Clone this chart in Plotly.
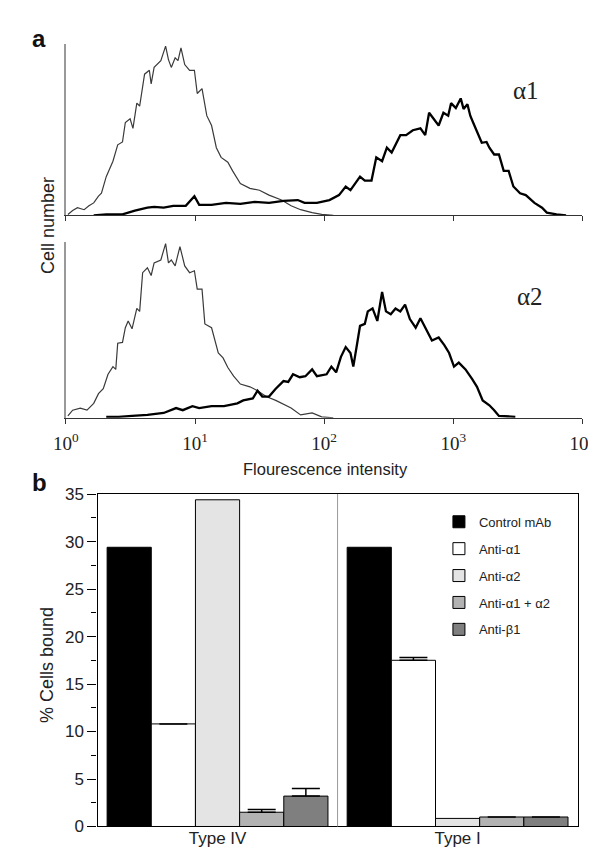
import plotly.graph_objects as go

# ---------------- Panel a data (flow cytometry histograms) ----------------
# log10 fluorescence intensity / relative cell number
a1_ctrl_logI = [0.015, 0.052, 0.089, 0.141, 0.178, 0.215, 0.252, 0.275, 0.312, 0.364, 0.401, 0.438,
                0.460, 0.497, 0.519, 0.549, 0.571, 0.609, 0.646, 0.660, 0.683, 0.735, 0.772, 0.794,
                0.816, 0.846, 0.868, 0.891, 0.920, 0.958, 0.995, 1.017, 1.054, 1.091, 1.128, 1.165,
                1.202, 1.254, 1.291, 1.351, 1.425, 1.499, 1.573, 1.670, 1.744, 1.818, 1.907, 1.981, 2.071]
a1_ctrl_count = [0.6, 2.9, 4.6, 3.4, 5.7, 7.4, 11.4, 13.1, 22.9, 32.0, 41.7, 43.4,
                 54.9, 57.1, 51.4, 66.3, 64.6, 83.4, 85.7, 77.7, 87.4, 91.4, 100.0, 92.0,
                 87.4, 93.1, 91.4, 98.9, 89.1, 85.7, 85.7, 72.0, 74.9, 58.9, 53.1, 40.0,
                 34.3, 31.4, 26.3, 18.9, 16.0, 14.9, 12.0, 9.1, 5.7, 3.4, 1.7, 0.6, 0.0]

a1_logI = [0.215, 0.312, 0.438, 0.482, 0.534, 0.631, 0.683, 0.757, 0.831, 0.928, 0.995, 1.032,
           1.128, 1.239, 1.351, 1.462, 1.573, 1.685, 1.796, 1.848, 1.944, 2.041, 2.115, 2.167,
           2.204, 2.278, 2.315, 2.367, 2.404, 2.449, 2.486, 2.523, 2.590, 2.635, 2.687, 2.746,
           2.783, 2.813, 2.850, 2.887, 2.924, 2.961, 2.983, 3.020, 3.058, 3.080, 3.110, 3.132,
           3.154, 3.184, 3.221, 3.258, 3.280, 3.317, 3.354, 3.391, 3.429, 3.466, 3.518, 3.562,
           3.629, 3.688, 3.725, 3.800, 3.874]
a1_count = [0.0, 0.6, 0.6, 1.7, 2.9, 4.6, 5.1, 4.6, 5.7, 5.7, 11.4, 6.3,
            6.3, 7.4, 6.9, 8.0, 7.4, 8.6, 9.1, 7.4, 7.4, 9.1, 12.0, 17.1,
            14.9, 22.9, 20.6, 20.6, 34.3, 32.0, 40.0, 37.1, 47.4, 47.4, 50.3, 51.4,
            47.4, 60.6, 57.1, 53.1, 60.6, 58.9, 66.3, 63.4, 69.1, 62.9, 65.7, 58.9,
            54.9, 49.1, 42.9, 43.4, 40.0, 36.0, 36.0, 26.3, 26.3, 17.1, 13.1, 12.0,
            7.4, 4.6, 1.7, 0.6, 0.0]

a2_ctrl_logI = [0.015, 0.052, 0.111, 0.163, 0.215, 0.252, 0.289, 0.326, 0.364, 0.386, 0.401, 0.438,
                0.460, 0.482, 0.512, 0.549, 0.571, 0.594, 0.631, 0.660, 0.683, 0.735, 0.772, 0.794,
                0.816, 0.846, 0.883, 0.920, 0.958, 0.995, 1.017, 1.054, 1.076, 1.128, 1.180, 1.217,
                1.254, 1.299, 1.351, 1.425, 1.484, 1.551, 1.625, 1.699, 1.744, 1.818, 1.907, 1.981, 2.071]
a2_ctrl_count = [1.1, 4.4, 5.6, 4.4, 8.3, 13.9, 16.7, 25.0, 29.4, 27.8, 42.8, 43.3,
                 51.7, 55.6, 51.1, 62.8, 61.1, 83.3, 86.1, 81.7, 88.9, 90.6, 100.0, 88.9,
                 90.6, 87.2, 98.3, 87.2, 83.3, 84.4, 73.9, 73.9, 53.9, 51.7, 37.2, 34.4,
                 28.9, 23.9, 19.4, 17.8, 15.6, 12.2, 10.0, 7.2, 5.6, 1.7, 2.8, 0.6, 0.0]

a2_logI = [0.312, 0.408, 0.512, 0.631, 0.757, 0.853, 0.905, 0.980, 1.032, 1.128, 1.224, 1.328,
           1.373, 1.447, 1.484, 1.521, 1.573, 1.625, 1.685, 1.722, 1.759, 1.811, 1.855, 1.907,
           1.944, 2.019, 2.056, 2.093, 2.130, 2.167, 2.204, 2.226, 2.256, 2.278, 2.315, 2.338,
           2.375, 2.412, 2.449, 2.479, 2.516, 2.553, 2.590, 2.627, 2.664, 2.709, 2.746, 2.783,
           2.835, 2.887, 2.931, 2.968, 3.006, 3.043, 3.095, 3.147, 3.184, 3.228, 3.280, 3.317,
           3.354, 3.481]
a2_count = [0.6, 0.6, 1.1, 1.7, 2.8, 5.6, 4.4, 6.7, 5.6, 6.7, 6.7, 8.3,
            10.0, 11.1, 15.6, 12.2, 12.2, 16.7, 21.1, 20.6, 25.0, 23.3, 23.9, 27.8,
            23.9, 25.0, 29.4, 26.1, 35.0, 40.6, 37.2, 29.4, 42.8, 52.8, 53.9, 61.1,
            62.8, 55.6, 72.2, 61.1, 59.4, 62.8, 61.1, 65.0, 56.7, 51.7, 57.2, 51.7,
            44.4, 46.1, 41.7, 37.2, 29.4, 31.7, 27.8, 22.2, 17.8, 10.0, 7.2, 4.4,
            1.1, 0.6]

decade_vals = [1, 10, 100, 1000, 10000]
decade_text = ["10<sup>0</sup>", "10<sup>1</sup>", "10<sup>2</sup>", "10<sup>3</sup>", "10<sup>4</sup>"]

# ---------------- Panel b data (adhesion assay) ----------------
categories = ["Type IV", "Type I"]
series_names = ["Control mAb", "Anti-α1", "Anti-α2", "Anti-α1 + α2", "Anti-β1"]
control_mab = [29.4, 29.4]
anti_a1 = [10.8, 17.5]
anti_a2 = [34.4, 0.85]
anti_a1_a2 = [1.5, 1.0]
anti_b1 = [3.2, 1.0]
anti_a1_err = [None, 0.3]
anti_a1_a2_err = [0.3, None]
anti_b1_err = [0.8, None]
series_values = [control_mab, anti_a1, anti_a2, anti_a1_a2, anti_b1]
series_errors = [None, anti_a1_err, None, anti_a1_a2_err, anti_b1_err]
series_colors = ["#000000", "#ffffff", "#e4e4e4", "#b2b2b2", "#7f7f7f"]

W, H = 596, 850
def px(x):
    return x / W
def py(y):
    return 1 - y / H

fig = go.Figure()

def tolin(vals):
    return [10 ** v for v in vals]

# panel a traces
fig.add_trace(go.Scatter(x=tolin(a1_ctrl_logI), y=a1_ctrl_count, mode="lines",
                         line=dict(color="#3a3a3a", width=1.2), xaxis="x", yaxis="y", showlegend=False))
fig.add_trace(go.Scatter(x=tolin(a1_logI), y=a1_count, mode="lines",
                         line=dict(color="#000000", width=2.3), xaxis="x", yaxis="y", showlegend=False))
fig.add_trace(go.Scatter(x=tolin(a2_ctrl_logI), y=a2_ctrl_count, mode="lines",
                         line=dict(color="#3a3a3a", width=1.2), xaxis="x2", yaxis="y2", showlegend=False))
fig.add_trace(go.Scatter(x=tolin(a2_logI), y=a2_count, mode="lines",
                         line=dict(color="#000000", width=2.3), xaxis="x2", yaxis="y2", showlegend=False))

# panel b traces
for name, vals, err, col in zip(series_names, series_values, series_errors, series_colors):
    kw = {}
    if err is not None:
        kw["error_y"] = dict(type="data", symmetric=False,
                             array=[e if e is not None else float("nan") for e in err],
                             arrayminus=[0, 0], color="#000", thickness=1.5, width=14)
    fig.add_trace(go.Bar(x=categories, y=vals, name=name, marker=dict(color=col, line=dict(color="#000", width=1)),
                         xaxis="x3", yaxis="y3", legendgroup=name, **kw))

xdom_a = [px(47), px(587)]
common_log = dict(type="log", range=[0, 4.0005], domain=xdom_a, showline=True, linecolor="#333", linewidth=1,
                  ticks="outside", ticklen=5, tickcolor="#333", tickvals=decade_vals,
                  showgrid=False, zeroline=False)
common_y = dict(showline=True, linecolor="#999", linewidth=1.6, ticks="", showticklabels=False,
                showgrid=False, zeroline=False, range=[0, 101])

def ann(text, x, y, size, family=None, angle=0, color="#222"):
    f = dict(size=size, color=color)
    if family:
        f["family"] = family
    return dict(text=text, x=px(x), y=py(y), xref="paper", yref="paper", showarrow=False,
                xanchor="center", yanchor="middle", textangle=angle, font=f)

serif = "Liberation Serif, Times New Roman, serif"

fig.update_layout(
    width=W, height=H, margin=dict(l=0, r=0, t=0, b=0),
    paper_bgcolor="white", plot_bgcolor="white",
    font=dict(family="Arial, Liberation Sans, sans-serif", color="#222"),
    xaxis=dict(**common_log, anchor="y", showticklabels=False),
    yaxis=dict(**common_y, domain=[py(203), py(28)], anchor="x"),
    xaxis2=dict(**common_log, anchor="y2", showticklabels=True, ticktext=decade_text,
                tickfont=dict(family=serif, size=19, color="#222"),
                ticklabelstandoff=3, ticklabeloverflow="allow"),
    yaxis2=dict(**common_y, domain=[py(410), py(230)], anchor="x2"),
    xaxis3=dict(domain=[px(80), px(582)], anchor="y3", showline=True, linecolor="#000", linewidth=1.3,
                mirror=True, ticks="", showgrid=False, zeroline=False,
                tickfont=dict(size=17, color="#222"), ticklabelstandoff=-4),
    yaxis3=dict(domain=[py(828), py(488)], anchor="x3", range=[0, 35], dtick=5, showline=True,
                linecolor="#000", linewidth=1.3, mirror=True, ticks="outside", ticklen=9, tickcolor="#000",
                minor=dict(dtick=2.5, ticks="outside", ticklen=5, tickcolor="#000"),
                showgrid=False, zeroline=False, tickfont=dict(size=17, color="#222")),
    barmode="group", bargap=0.08, bargroupgap=0,
    legend=dict(x=px(437), y=py(501), xanchor="left", yanchor="top", bgcolor="rgba(0,0,0,0)",
                font=dict(size=13, color="#222"), tracegroupgap=7, itemwidth=30),
    shapes=[dict(type="line", xref="x3", yref="y3 domain", x0=0.5, x1=0.5, y0=0, y1=1,
                 line=dict(color="#999", width=1))],
    annotations=[
        ann("<b>a</b>", 19, 22, 24, color="#111"),
        ann("<b>b</b>", 19, 476, 24, color="#111"),
        ann("α1", 528, 75, 25, family=serif),
        ann("α2", 532, 286, 25, family=serif),
        ann("Cell number", 28, 213, 18, angle=-90),
        ann("Flourescence intensity", 318, 462, 16.5),
        ann("% Cells bound", 27, 663, 18, angle=-90),
    ],
)

fig.write_html("out.html")
